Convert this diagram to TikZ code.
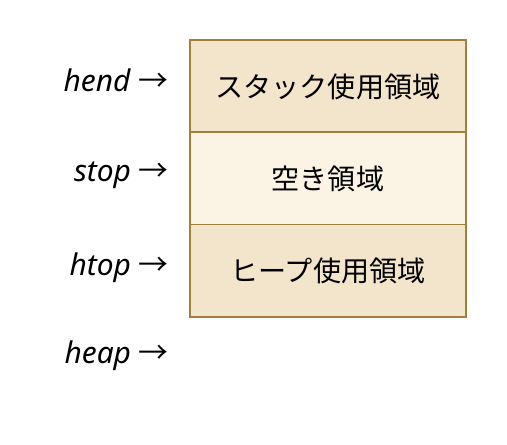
\documentclass[tikz,border=0pt]{standalone}
\usepackage{fontspec}
\setmainfont{Noto Sans}
\newfontfamily\jpfont{Noto Sans CJK JP}
\usetikzlibrary{positioning}
\definecolor{memedge}{HTML}{A07F3C}
\definecolor{memused}{HTML}{F2E5CC}
\definecolor{memfree}{HTML}{FBF3E4}
\begin{document}
\begin{tikzpicture}[x=0.02cm, y=-0.02cm, font=\fontsize{17}{20}\selectfont,
  area/.style={draw=memedge, line width=1pt, minimum width=5.52cm,
    minimum height=1.845cm, inner sep=0pt, outer sep=0pt,
    text height=1.3em, text depth=0.05em,
    font=\jpfont\fontsize{16}{19}\selectfont},
  ptr/.style={anchor=east, inner sep=0pt}]
  \useasboundingbox (0,0) rectangle (507,445);
  % memory areas
  \node[area, fill=memused, anchor=north west] (stack) at (190,40) {スタック使用領域};
  \node[area, fill=memfree, below=0pt of stack] (free) {空き領域};
  \node[area, fill=memused, below=0pt of free] (heaparea) {ヒープ使用領域};
  % pointers
  \node[ptr] (hend) at (169,80) {\textit{hend} {\jpfont →}};
  \node[ptr] (stop) at (169,175) {\textit{stop} {\jpfont →}};
  \node[ptr] (htop) at (169,268) {\textit{htop} {\jpfont →}};
  \node[ptr] (heap) at (169,356) {\textit{heap} {\jpfont →}};
\end{tikzpicture}
\end{document}
